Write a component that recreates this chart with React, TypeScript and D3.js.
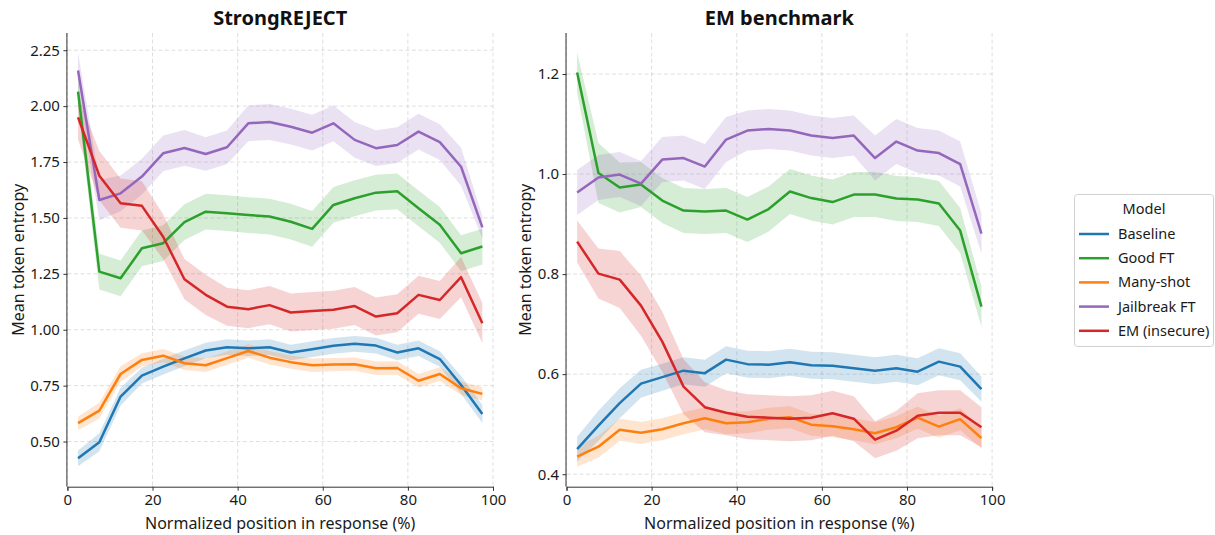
import { useEffect, useRef } from "react"
import * as d3 from "d3"

// x positions (bin centres, % of response)
const positions = [2.5, 7.5, 12.5, 17.5, 22.5, 27.5, 32.5, 37.5, 42.5, 47.5, 52.5, 57.5, 62.5, 67.5, 72.5, 77.5, 82.5, 87.5, 92.5, 97.5]

const models = ["Baseline", "Good FT", "Many-shot", "Jailbreak FT", "EM (insecure)"]
const colors = ["#1f77b4", "#2ca02c", "#ff7f0e", "#9467bd", "#d62728"]

// StrongREJECT means
const srBaseline = [0.425, 0.497, 0.701, 0.795, 0.835, 0.872, 0.907, 0.922, 0.917, 0.922, 0.898, 0.913, 0.928, 0.937, 0.929, 0.898, 0.917, 0.869, 0.753, 0.623]
const srGoodFT = [2.065, 1.260, 1.230, 1.364, 1.387, 1.481, 1.528, 1.521, 1.513, 1.506, 1.483, 1.451, 1.558, 1.588, 1.613, 1.619, 1.543, 1.469, 1.342, 1.372]
const srManyShot = [0.582, 0.638, 0.802, 0.865, 0.884, 0.850, 0.841, 0.873, 0.905, 0.875, 0.855, 0.841, 0.844, 0.846, 0.828, 0.829, 0.772, 0.802, 0.738, 0.713]
const srJailbreak = [2.159, 1.580, 1.610, 1.685, 1.789, 1.813, 1.786, 1.816, 1.923, 1.929, 1.908, 1.881, 1.923, 1.849, 1.812, 1.826, 1.886, 1.839, 1.729, 1.458]
const srEM = [1.950, 1.689, 1.566, 1.554, 1.416, 1.226, 1.156, 1.103, 1.092, 1.110, 1.077, 1.084, 1.089, 1.106, 1.059, 1.074, 1.156, 1.133, 1.235, 1.029]

// StrongREJECT 95% CI half widths
const srBaselineCI = [0.035, 0.04, 0.04, 0.035, 0.035, 0.035, 0.035, 0.035, 0.035, 0.035, 0.035, 0.035, 0.035, 0.035, 0.035, 0.035, 0.035, 0.035, 0.04, 0.04]
const srGoodFTCI = [0.07, 0.08, 0.08, 0.08, 0.08, 0.08, 0.08, 0.08, 0.08, 0.08, 0.08, 0.08, 0.08, 0.08, 0.08, 0.08, 0.08, 0.08, 0.08, 0.08]
const srManyShotCI = [0.03, 0.035, 0.035, 0.03, 0.03, 0.03, 0.03, 0.03, 0.03, 0.03, 0.03, 0.03, 0.03, 0.03, 0.03, 0.03, 0.03, 0.03, 0.03, 0.03]
const srJailbreakCI = [0.08, 0.09, 0.08, 0.08, 0.08, 0.08, 0.075, 0.075, 0.08, 0.08, 0.08, 0.08, 0.08, 0.08, 0.08, 0.08, 0.08, 0.08, 0.085, 0.05]
const srEMCI = [0.1, 0.11, 0.11, 0.11, 0.1, 0.09, 0.09, 0.085, 0.085, 0.085, 0.085, 0.085, 0.085, 0.085, 0.085, 0.085, 0.085, 0.085, 0.09, 0.09]

// EM benchmark means
const emBaseline = [0.450, 0.497, 0.542, 0.581, 0.594, 0.607, 0.602, 0.629, 0.620, 0.619, 0.624, 0.618, 0.617, 0.612, 0.607, 0.612, 0.605, 0.625, 0.615, 0.570]
const emGoodFT = [1.203, 1.002, 0.973, 0.979, 0.947, 0.927, 0.925, 0.927, 0.909, 0.930, 0.965, 0.952, 0.944, 0.959, 0.959, 0.951, 0.949, 0.941, 0.887, 0.735]
const emManyShot = [0.435, 0.455, 0.489, 0.483, 0.490, 0.502, 0.512, 0.502, 0.504, 0.511, 0.514, 0.499, 0.496, 0.490, 0.482, 0.494, 0.513, 0.495, 0.510, 0.472]
const emJailbreak = [0.963, 0.993, 0.999, 0.981, 1.029, 1.032, 1.015, 1.069, 1.087, 1.090, 1.087, 1.077, 1.072, 1.077, 1.032, 1.065, 1.047, 1.042, 1.020, 0.881]
const emEM = [0.865, 0.801, 0.789, 0.737, 0.665, 0.575, 0.534, 0.523, 0.515, 0.513, 0.511, 0.513, 0.522, 0.511, 0.469, 0.487, 0.517, 0.523, 0.523, 0.494]

// EM benchmark 95% CI half widths
const emBaselineCI = [0.025, 0.03, 0.03, 0.028, 0.027, 0.027, 0.027, 0.027, 0.027, 0.027, 0.027, 0.027, 0.027, 0.027, 0.027, 0.027, 0.027, 0.027, 0.027, 0.025]
const emGoodFTCI = [0.04, 0.06, 0.05, 0.045, 0.045, 0.045, 0.045, 0.045, 0.045, 0.045, 0.045, 0.045, 0.045, 0.045, 0.045, 0.045, 0.045, 0.045, 0.045, 0.04]
const emManyShotCI = [0.02, 0.022, 0.022, 0.022, 0.022, 0.022, 0.022, 0.022, 0.022, 0.022, 0.022, 0.022, 0.022, 0.022, 0.022, 0.022, 0.022, 0.022, 0.022, 0.02]
const emJailbreakCI = [0.045, 0.045, 0.045, 0.045, 0.045, 0.045, 0.045, 0.045, 0.04, 0.04, 0.04, 0.04, 0.04, 0.04, 0.045, 0.045, 0.045, 0.045, 0.045, 0.04]
const emEMCI = [0.042, 0.05, 0.057, 0.06, 0.06, 0.055, 0.05, 0.045, 0.045, 0.045, 0.045, 0.045, 0.045, 0.045, 0.037, 0.04, 0.045, 0.045, 0.045, 0.04]

const srTicks = [0.5, 0.75, 1.0, 1.25, 1.5, 1.75, 2.0, 2.25]
const emTicks = [0.4, 0.6, 0.8, 1.0, 1.2]
const xTicks = [0, 20, 40, 60, 80, 100]

const panels = [
    {
        title: "StrongREJECT",
        means: [srBaseline, srGoodFT, srManyShot, srJailbreak, srEM],
        cis: [srBaselineCI, srGoodFTCI, srManyShotCI, srJailbreakCI, srEMCI],
        yDomain: [0.298, 2.327],
        yTicks: srTicks,
        fmt: d3.format(".2f"),
        labelGap: 49.5,
    },
    {
        title: "EM benchmark",
        means: [emBaseline, emGoodFT, emManyShot, emJailbreak, emEM],
        cis: [emBaselineCI, emGoodFTCI, emManyShotCI, emJailbreakCI, emEMCI],
        yDomain: [0.375, 1.282],
        yTicks: emTicks,
        fmt: d3.format(".1f"),
        labelGap: 41.5,
    },
]

const FONT = "'Noto Sans', 'Open Sans', sans-serif"

export default function App() {
    const ref = useRef<SVGSVGElement>(null)

    useEffect(() => {
        const svg = d3.select(ref.current)
        svg.selectAll("*").remove()

        const top = 33
        const bottom = 486.7
        const lefts = [67.4, 566.5]
        const plotW = 425.6

        panels.forEach((p, pi) => {
            const x = d3.scaleLinear().domain([0, 100]).range([lefts[pi], lefts[pi] + plotW])
            const y = d3.scaleLinear().domain(p.yDomain).range([bottom, top])
            const g = svg.append("g")

            // grid
            g.append("g")
                .selectAll("line")
                .data(xTicks)
                .join("line")
                    .attr("x1", d => x(d)).attr("x2", d => x(d))
                    .attr("y1", top).attr("y2", bottom)
                    .attr("stroke", "#b0b0b0").attr("stroke-opacity", 0.5)
                    .attr("stroke-dasharray", "4,2.5").attr("stroke-width", 0.8)
            g.append("g")
                .selectAll("line")
                .data(p.yTicks)
                .join("line")
                    .attr("x1", x(0)).attr("x2", x(100))
                    .attr("y1", d => y(d)).attr("y2", d => y(d))
                    .attr("stroke", "#b0b0b0").attr("stroke-opacity", 0.5)
                    .attr("stroke-dasharray", "4,2.5").attr("stroke-width", 0.8)

            // bands
            p.means.forEach((m, si) => {
                const ci = p.cis[si]
                const area = d3.area<number>()
                    .x((_, i) => x(positions[i]))
                    .y0((d, i) => y(d - ci[i]))
                    .y1((d, i) => y(d + ci[i]))
                g.append("path")
                    .attr("d", area(m))
                    .attr("fill", colors[si])
                    .attr("fill-opacity", 0.2)
            })

            // lines
            p.means.forEach((m, si) => {
                const line = d3.line<number>()
                    .x((_, i) => x(positions[i]))
                    .y(d => y(d))
                g.append("path")
                    .attr("d", line(m))
                    .attr("fill", "none")
                    .attr("stroke", colors[si])
                    .attr("stroke-width", 2.5)
                    .attr("stroke-linejoin", "round")
            })

            // axes
            g.append("g")
                .attr("transform", `translate(0,${bottom})`)
                .call(d3.axisBottom(x).tickValues(xTicks).tickSize(4).tickPadding(3.5).tickFormat(d3.format("d")))
                .call(a => a.selectAll("text").attr("font-size", 15).attr("font-family", FONT).attr("fill", "#1a1a1a"))
                .call(a => a.selectAll("line,path").attr("stroke", "#333").attr("stroke-width", 1))
            g.append("g")
                .attr("transform", `translate(${x(0)},0)`)
                .call(d3.axisLeft(y).tickValues(p.yTicks).tickSize(4).tickPadding(3.5).tickFormat(p.fmt as any))
                .call(a => a.selectAll("text").attr("font-size", 15).attr("font-family", FONT).attr("fill", "#1a1a1a"))
                .call(a => a.selectAll("line,path").attr("stroke", "#333").attr("stroke-width", 1))
                .call(a => a.select(".domain").attr("d", `M-0.5,${bottom}V${top}`))

            // titles
            g.append("text")
                .attr("x", x(50)).attr("y", 25)
                .attr("text-anchor", "middle")
                .attr("font-family", FONT).attr("font-size", 20).attr("font-weight", "bold")
                .attr("fill", "#111")
                .text(p.title)
            g.append("text")
                .attr("x", x(50)).attr("y", 529)
                .attr("text-anchor", "middle")
                .attr("font-family", FONT).attr("font-size", 16)
                .attr("fill", "#1a1a1a")
                .text("Normalized position in response (%)")
            g.append("text")
                .attr("transform", `translate(${lefts[pi] - p.labelGap},${(top + bottom) / 2})rotate(-90)`)
                .attr("text-anchor", "middle")
                .attr("dy", "0.35em")
                .attr("font-family", FONT).attr("font-size", 16)
                .attr("fill", "#1a1a1a")
                .text("Mean token entropy")
        })

        // legend
        const lg = svg.append("g").attr("transform", "translate(1074,194)")
        lg.append("rect")
            .attr("x", 0.5).attr("y", 0.5)
            .attr("width", 139).attr("height", 152)
            .attr("rx", 3)
            .attr("fill", "white").attr("fill-opacity", 0.8)
            .attr("stroke", "#d0d0d0")
        lg.append("text")
            .attr("x", 70).attr("y", 15)
            .attr("text-anchor", "middle")
            .attr("dy", "0.35em")
            .attr("font-family", FONT).attr("font-size", 14.5)
            .attr("fill", "#1a1a1a")
            .text("Model")
        const rows = lg.selectAll("g.row")
            .data(models)
            .join("g")
                .attr("class", "row")
                .attr("transform", (_, i) => `translate(0,${40 + i * 24.2})`)
        rows.append("line")
            .attr("x1", 5).attr("x2", 35)
            .attr("y1", 0).attr("y2", 0)
            .attr("stroke", (_, i) => colors[i])
            .attr("stroke-width", 2.5)
        rows.append("text")
            .attr("x", 44).attr("y", 0)
            .attr("dy", "0.35em")
            .attr("font-family", FONT).attr("font-size", 14.5)
            .attr("fill", "#1a1a1a")
            .text(d => d)
    }, [])

    return (
        <svg
            ref={ref}
            width={1215}
            height={535}
            viewBox="0 0 1215 535"
            style={{ position: "absolute", left: 0, top: 0, background: "white" }}
        />
    )
}
